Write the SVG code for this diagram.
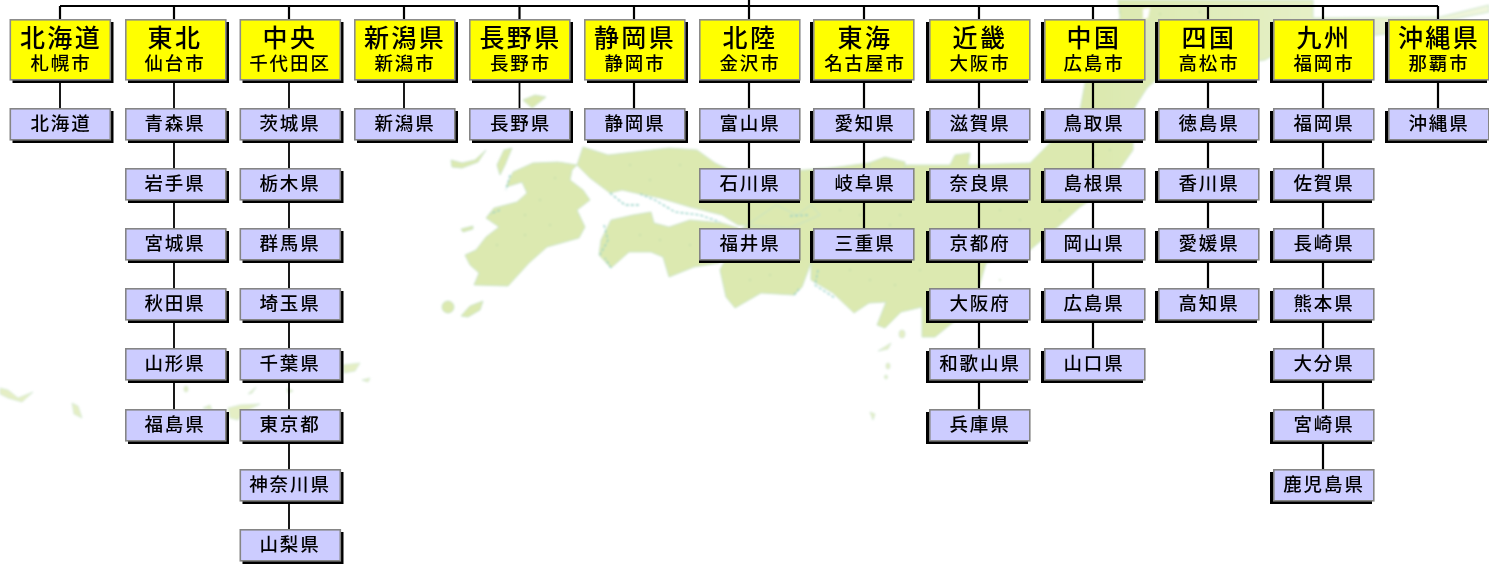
<svg xmlns="http://www.w3.org/2000/svg" width="1489" height="564" viewBox="0 0 1489 564">
<style>
text{font-family:"Noto Sans CJK JP","Noto Sans CJK SC",sans-serif;fill:#000;text-anchor:middle;font-weight:500;transform:translateY(-.5px)}
.a{font-size:25px;letter-spacing:2.4px}
.b{font-size:18.5px;letter-spacing:1.9px}
.s{fill:#000}
.h{fill:#ff0;stroke:#8c8c8c;stroke-width:1.6}
.c{fill:#ccf;stroke:#858585;stroke-width:1.6}
.land{fill:#dce9b0;stroke:#c3e0c6;stroke-width:.8;stroke-linejoin:round}
.main{fill:url(#fade);stroke:#c3e0c6;stroke-width:.8;stroke-linejoin:round}
.pale{opacity:.75}
.teal{fill:none;stroke:#8fcfc4;stroke-width:1.3;stroke-dasharray:3 2}
.dots{fill:none;stroke:#a9cfa0;stroke-width:1.4;stroke-linecap:round}
.line{fill:none;stroke:#000;stroke-width:1.8}
.bold{stroke-width:2.2}
</style>
<defs>
<linearGradient id="fade" gradientUnits="userSpaceOnUse" x1="1100" y1="0" x2="1489" y2="0"><stop offset="0" stop-color="#dce9b0"/><stop offset=".5" stop-color="#e4efc4"/><stop offset="1" stop-color="#f0f6de"/></linearGradient>
<filter id="soft" filterUnits="userSpaceOnUse" x="0" y="0" width="1489" height="564"><feGaussianBlur stdDeviation="0.35"/></filter>
<filter id="softer" filterUnits="userSpaceOnUse" x="0" y="0" width="1489" height="564"><feGaussianBlur stdDeviation="0.8"/></filter>
<g id="hR"><rect class="s" x="3" y="3" width="101" height="61"/><rect class="h" x=".8" y=".8" width="100" height="60"/></g>
<g id="hC"><rect class="s" x="0" y="3" width="101" height="61"/><rect class="h" x=".8" y=".8" width="100" height="60"/></g>
<g id="hL"><rect class="s" x="-3" y="3" width="102" height="61"/><rect class="h" x=".8" y=".8" width="100" height="60"/></g>
<g id="cR"><rect class="s" x="3" y="3" width="101" height="32"/><rect class="c" x=".8" y=".8" width="100" height="31"/></g>
<g id="cC"><rect class="s" x="0" y="3" width="101" height="32"/><rect class="c" x=".8" y=".8" width="100" height="31"/></g>
<g id="cL"><rect class="s" x="-3" y="3" width="102" height="32"/><rect class="c" x=".8" y=".8" width="100" height="31"/></g>
</defs>
<rect width="1489" height="564" fill="#fff"/>
<g id="map" filter="url(#softer)">
<path class="land" d="M577 165L558 162L533 163L513 172L506 187L522 182L527 193L517 202L494 208L486 218L499 227L486 237L476 250L465 255L470 265L479 273L474 285L508 286L529 263L547 247L579 238L585 227L577 210L590 200L583 190L570 180L572 170Z"/>
<path class="land" d="M611 220L601 240L599 255L611 268L629 252L651 252L663 257L669 277L694 267L719 263L736 243L738 228L722 223L690 220L669 227L654 223L651 212L633 215Z"/>
<path class="main" d="M577 165L583 147L608 155L669 148L697 150L715 163L740 175L830 168L869 163L905 165L950 165L955 155L970 153L968 165L1030 163L1050 143L1080 110L1085 83L1100 40L1120 18L1118 0L1313 0L1313 18L1440 17L1489 5L1489 12L1440 22L1385 34L1290 45L1265 60L1165 72L1147 88L1133 110L1133 150L1105 190L1080 207L1060 225L1030 250L986 263L979 287L956 320L935 337L922 337L922 307L901 312L885 328L877 325L886 302L869 303L854 313L833 293L811 280L811 263L802 287L794 295L761 293L735 308L726 297L720 270L740 230L776 205L797 215L811 205L820 215L790 228L738 225L722 215L690 207L660 198L640 194L622 190L610 193L590 178L577 165Z"/>
<path class="land" d="M451 160L462 163L475 160L486 150L478 162L462 168L452 167Z"/>
<path class="land" d="M504 150L512 148L505 165L500 175L497 165Z"/>
<path class="land" d="M523 100L535 95L546 97L532 108Z"/>
<path class="land" d="M461 229L473 226L473 229L463 232Z"/>
<ellipse class="land" cx="448" cy="307" rx="6" ry="6"/>
<path class="land" d="M461 316L470 306L483 301L480 310L468 317Z"/>
<path class="land" d="M869 163L885 157L905 162L905 170L870 170Z"/>
<g class="pale">
<path class="land" d="M0 388L8 390L18 398L33 392L22 402L8 398L0 394Z"/>
<path class="land" d="M72 403L78 406L82 418L74 414Z"/>
<path class="land" d="M228 408L240 405L260 404L244 412L238 420L230 418Z"/>
<path class="land" d="M343 365L360 363L355 371L344 373Z"/>
<path class="land" d="M362 380L370 378L368 382Z"/>
<path class="land" d="M287 388L293 391L288 393Z"/>
<path class="land" d="M248 394L256 387L252 393Z"/>
<path class="land" d="M203 408L210 405L212 410Z"/>
<ellipse class="land" cx="186" cy="389" rx="2" ry="3"/>
<ellipse class="land" cx="902" cy="334" rx="3" ry="4"/>
<ellipse class="land" cx="888" cy="366" rx="2" ry="3"/>
<ellipse class="land" cx="886" cy="377" rx="1.5" ry="2"/>
<path class="land" d="M878 351L891 343L888 349Z"/>
<path class="land" d="M870 412L875 414L873 420Z"/>
</g>
<path class="teal" d="M610 193L625 205L640 205M640 194L655 200L675 212L700 215L720 222M604 225L608 240L600 255M790 216L810 215M611 268L605 258M510 175L506 190M500 210L490 214M818 270L815 285L835 298M794 295L800 288"/>
<path d="M1143 9L1150 8L1148 18L1143 19Z" fill="#fff"/>
<path class="dots" d="M497 245h0M525 235h0M550 225h0M525 215h0M540 200h0M555 178h0M650 180h0M630 165h0M680 165h0M640 235h0M660 240h0M690 245h0M770 275h0M750 280h0M790 262h0M840 210h0M860 215h0M890 225h0M905 235h0M850 270h0M870 280h0M895 285h0M920 270h0M900 215h0M1000 210h0M1020 220h0M1060 210h0M1095 155h0M1110 150h0M1120 12h0M1160 14h0M1200 12h0M1000 280h0M950 250h0"/>
</g>
<g id="content" filter="url(#soft)">
<g id="connectors">
<path class="line bold" d="M60 6H1438M749 0V19M60 6V19M174 6V19M289 6V19M404 6V19M519.5 6V19M634 6V19M864 6V19M979 6V19M1093 6V19M1208 6V19M1323 6V19M1438 6V19"/>
<path class="line" d="M60 80V108M174 80V409M289 80V529M404 80V108M519.5 80V108"/>
<path class="line bold" d="M634 80V108M749 80V228M864 80V228M979 80V409M1093 80V348M1208 80V288M1323 80V469M1438 80V108"/>
</g>
<g id="h1"><use href="#hR" x="9.5" y="19"/><text class="a" x="61" y="47.5">北海道</text><text class="b" x="61" y="70">札幌市</text></g>
<g id="h2"><use href="#hR" x="125" y="19"/><text class="a" x="175" y="47.5">東北</text><text class="b" x="175" y="70">仙台市</text></g>
<g id="h3"><use href="#hR" x="239.5" y="19"/><text class="a" x="290" y="47.5">中央</text><text class="b" x="290" y="70">千代田区</text></g>
<g id="h4"><use href="#hR" x="354" y="19"/><text class="a" x="405" y="47.5">新潟県</text><text class="b" x="405" y="70">新潟市</text></g>
<g id="h5"><use href="#hR" x="469" y="19"/><text class="a" x="520.5" y="47.5">長野県</text><text class="b" x="520.5" y="70">長野市</text></g>
<g id="h6"><use href="#hR" x="584" y="19"/><text class="a" x="635" y="47.5">静岡県</text><text class="b" x="635" y="70">静岡市</text></g>
<g id="h7"><use href="#hC" x="699" y="19"/><text class="a" x="750" y="47.5">北陸</text><text class="b" x="750" y="70">金沢市</text></g>
<g id="h8"><use href="#hL" x="813" y="19"/><text class="a" x="865" y="47.5">東海</text><text class="b" x="865" y="70">名古屋市</text></g>
<g id="h9"><use href="#hL" x="929" y="19"/><text class="a" x="980" y="47.5">近畿</text><text class="b" x="980" y="70">大阪市</text></g>
<g id="h10"><use href="#hL" x="1044" y="19"/><text class="a" x="1094" y="47.5">中国</text><text class="b" x="1094" y="70">広島市</text></g>
<g id="h11"><use href="#hL" x="1158" y="19"/><text class="a" x="1209" y="47.5">四国</text><text class="b" x="1209" y="70">高松市</text></g>
<g id="h12"><use href="#hL" x="1273" y="19"/><text class="a" x="1324" y="47.5">九州</text><text class="b" x="1324" y="70">福岡市</text></g>
<g id="h13"><use href="#hL" x="1388" y="19"/><text class="a" x="1439" y="47.5">沖縄県</text><text class="b" x="1439" y="70">那覇市</text></g>

<g id="c1-1"><use href="#cR" x="9.5" y="108"/><text class="b" x="61" y="130">北海道</text></g>

<g id="c2-1"><use href="#cR" x="125" y="108"/><text class="b" x="175" y="130">青森県</text></g>
<g id="c2-2"><use href="#cR" x="125" y="168"/><text class="b" x="175" y="190">岩手県</text></g>
<g id="c2-3"><use href="#cR" x="125" y="228"/><text class="b" x="175" y="250">宮城県</text></g>
<g id="c2-4"><use href="#cR" x="125" y="288"/><text class="b" x="175" y="310">秋田県</text></g>
<g id="c2-5"><use href="#cR" x="125" y="348"/><text class="b" x="175" y="370">山形県</text></g>
<g id="c2-6"><use href="#cR" x="125" y="409"/><text class="b" x="175" y="431">福島県</text></g>

<g id="c3-1"><use href="#cR" x="239.5" y="108"/><text class="b" x="290" y="130">茨城県</text></g>
<g id="c3-2"><use href="#cR" x="239.5" y="168"/><text class="b" x="290" y="190">栃木県</text></g>
<g id="c3-3"><use href="#cR" x="239.5" y="228"/><text class="b" x="290" y="250">群馬県</text></g>
<g id="c3-4"><use href="#cR" x="239.5" y="288"/><text class="b" x="290" y="310">埼玉県</text></g>
<g id="c3-5"><use href="#cR" x="239.5" y="348"/><text class="b" x="290" y="370">千葉県</text></g>
<g id="c3-6"><use href="#cR" x="239.5" y="409"/><text class="b" x="290" y="431">東京都</text></g>
<g id="c3-7"><use href="#cR" x="239.5" y="469"/><text class="b" x="290" y="491">神奈川県</text></g>
<g id="c3-8"><use href="#cR" x="239.5" y="529"/><text class="b" x="290" y="551">山梨県</text></g>

<g id="c4-1"><use href="#cR" x="354" y="108"/><text class="b" x="405" y="130">新潟県</text></g>
<g id="c5-1"><use href="#cR" x="469" y="108"/><text class="b" x="520.5" y="130">長野県</text></g>
<g id="c6-1"><use href="#cR" x="584" y="108"/><text class="b" x="635" y="130">静岡県</text></g>

<g id="c7-1"><use href="#cC" x="699" y="108"/><text class="b" x="750" y="130">富山県</text></g>
<g id="c7-2"><use href="#cC" x="699" y="168"/><text class="b" x="750" y="190">石川県</text></g>
<g id="c7-3"><use href="#cC" x="699" y="228"/><text class="b" x="750" y="250">福井県</text></g>

<g id="c8-1"><use href="#cL" x="813" y="108"/><text class="b" x="865" y="130">愛知県</text></g>
<g id="c8-2"><use href="#cL" x="813" y="168"/><text class="b" x="865" y="190">岐阜県</text></g>
<g id="c8-3"><use href="#cL" x="813" y="228"/><text class="b" x="865" y="250">三重県</text></g>

<g id="c9-1"><use href="#cL" x="929" y="108"/><text class="b" x="980" y="130">滋賀県</text></g>
<g id="c9-2"><use href="#cL" x="929" y="168"/><text class="b" x="980" y="190">奈良県</text></g>
<g id="c9-3"><use href="#cL" x="929" y="228"/><text class="b" x="980" y="250">京都府</text></g>
<g id="c9-4"><use href="#cL" x="929" y="288"/><text class="b" x="980" y="310">大阪府</text></g>
<g id="c9-5"><use href="#cL" x="929" y="348"/><text class="b" x="980" y="370">和歌山県</text></g>
<g id="c9-6"><use href="#cL" x="929" y="409"/><text class="b" x="980" y="431">兵庫県</text></g>

<g id="c10-1"><use href="#cL" x="1044" y="108"/><text class="b" x="1094" y="130">鳥取県</text></g>
<g id="c10-2"><use href="#cL" x="1044" y="168"/><text class="b" x="1094" y="190">島根県</text></g>
<g id="c10-3"><use href="#cL" x="1044" y="228"/><text class="b" x="1094" y="250">岡山県</text></g>
<g id="c10-4"><use href="#cL" x="1044" y="288"/><text class="b" x="1094" y="310">広島県</text></g>
<g id="c10-5"><use href="#cL" x="1044" y="348"/><text class="b" x="1094" y="370">山口県</text></g>

<g id="c11-1"><use href="#cL" x="1158" y="108"/><text class="b" x="1209" y="130">徳島県</text></g>
<g id="c11-2"><use href="#cL" x="1158" y="168"/><text class="b" x="1209" y="190">香川県</text></g>
<g id="c11-3"><use href="#cL" x="1158" y="228"/><text class="b" x="1209" y="250">愛媛県</text></g>
<g id="c11-4"><use href="#cL" x="1158" y="288"/><text class="b" x="1209" y="310">高知県</text></g>

<g id="c12-1"><use href="#cL" x="1273" y="108"/><text class="b" x="1324" y="130">福岡県</text></g>
<g id="c12-2"><use href="#cL" x="1273" y="168"/><text class="b" x="1324" y="190">佐賀県</text></g>
<g id="c12-3"><use href="#cL" x="1273" y="228"/><text class="b" x="1324" y="250">長崎県</text></g>
<g id="c12-4"><use href="#cL" x="1273" y="288"/><text class="b" x="1324" y="310">熊本県</text></g>
<g id="c12-5"><use href="#cL" x="1273" y="348"/><text class="b" x="1324" y="370">大分県</text></g>
<g id="c12-6"><use href="#cL" x="1273" y="409"/><text class="b" x="1324" y="431">宮崎県</text></g>
<g id="c12-7"><use href="#cL" x="1273" y="469"/><text class="b" x="1324" y="491">鹿児島県</text></g>

<g id="c13-1"><use href="#cL" x="1388" y="108"/><text class="b" x="1439" y="130">沖縄県</text></g>
</g>
</svg>
